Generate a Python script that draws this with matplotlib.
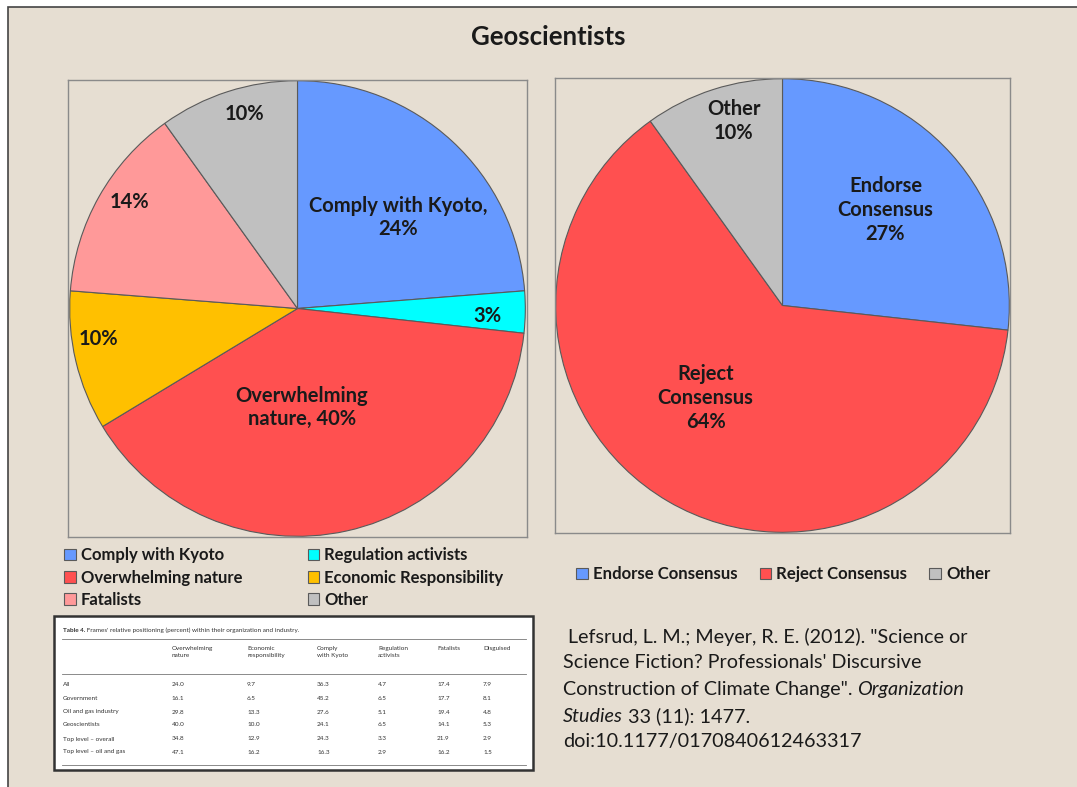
import matplotlib.pyplot as plt
from matplotlib.patches import Rectangle

plt.rcParams['font.family'] = ['Lato', 'DejaVu Sans']

# Data
frames = ['Comply with Kyoto', 'Regulation activists', 'Overwhelming nature',
          'Economic Responsibility', 'Fatalists', 'Other']
frame_pct = [24, 3, 40, 10, 14, 10]
frame_colors = ['#6699FF', '#00FFFF', '#FF5050', '#FFC000', '#FF9999', '#C0C0C0']
frame_labels = ['Comply with Kyoto,\n24%', '3%', 'Overwhelming\nnature, 40%',
                '10%', '14%', '10%']

consensus = ['Endorse Consensus', 'Reject Consensus', 'Other']
consensus_pct = [27, 64, 10]
consensus_colors = ['#6699FF', '#FF5050', '#C0C0C0']
consensus_labels = ['Endorse\nConsensus\n27%', 'Reject\nConsensus\n64%', 'Other\n10%']

table_cols = ['Overwhelming\nnature', 'Economic\nresponsibility', 'Comply\nwith Kyoto',
              'Regulation\nactivists', 'Fatalists', 'Disguised']
table_rows = ['All', 'Government', 'Oil and gas industry', 'Geoscientists',
              'Top level \u2013 overall', 'Top level \u2013 oil and gas']
table_vals = [
    ['24.0', '9.7', '36.3', '4.7', '17.4', '7.9'],
    ['16.1', '6.5', '45.2', '6.5', '17.7', '8.1'],
    ['29.8', '13.3', '27.6', '5.1', '19.4', '4.8'],
    ['40.0', '10.0', '24.1', '6.5', '14.1', '5.3'],
    ['34.8', '12.9', '24.3', '3.3', '21.9', '2.9'],
    ['47.1', '16.2', '16.3', '2.9', '16.2', '1.5'],
]

# label positions inside the pies (axes data units)
frame_label_xy = [(0.443, 0.399), (0.833, -0.031), (0.018, -0.434),
                  (-0.873, -0.136), (-0.737, 0.469), (-0.232, 0.855)]
consensus_label_xy = [(0.454, 0.419), (-0.339, -0.41), (-0.216, 0.815)]

W, H = 1077, 787
BG = '#E6DED2'
fig = plt.figure(figsize=(W / 100, H / 100), dpi=100)
fig.patch.set_facecolor('white')

# background / overlay axes in pixel coords
bg = fig.add_axes([0, 0, 1, 1], zorder=-1)
bg.set_xlim(0, W)
bg.set_ylim(H, 0)
bg.axis('off')
bg.add_patch(Rectangle((8, 7), W + 20, H + 20, facecolor=BG, edgecolor='#444444', lw=1.2))

bg.text(548, 37, 'Geoscientists', ha='center', va='center', fontsize=18.5, fontweight='bold',
        color='#1a1a1a')


def pie_axes(px0, py0, px1, py1):
    ax = fig.add_axes([px0 / W, 1 - py1 / H, (px1 - px0) / W, (py1 - py0) / H])
    ax.set_facecolor(BG)
    return ax


wedge_style = dict(edgecolor='#5a5a5a', linewidth=0.8)

# left pie
ax1 = pie_axes(68, 80, 527, 537)
w1, _ = ax1.pie(frame_pct, colors=frame_colors, startangle=90, counterclock=False,
                wedgeprops=wedge_style)
ax1.set_frame_on(True)
ax1.set_xlim(-1.007, 1.007)
ax1.set_ylim(-1.003, 1.003)
for (x, y), lab in zip(frame_label_xy, frame_labels):
    ax1.text(x, y, lab, ha='center', va='center', fontsize=14.5, fontweight='bold',
             color='#1a1a1a', linespacing=1.2)

# right pie
ax2 = pie_axes(555, 78, 1010, 533)
w2, _ = ax2.pie(consensus_pct, colors=consensus_colors, startangle=90, counterclock=False,
                wedgeprops=wedge_style)
ax2.set_frame_on(True)
ax2.set_xlim(-1.003, 1.003)
ax2.set_ylim(-1.003, 1.003)
for (x, y), lab in zip(consensus_label_xy, consensus_labels):
    ax2.text(x, y, lab, ha='center', va='center', fontsize=14.5, fontweight='bold',
             color='#1a1a1a', linespacing=1.25)

for ax in (ax1, ax2):
    for s in ax.spines.values():
        s.set_color('#8a8a8a')
        s.set_linewidth(1)

# legends
order = [0, 2, 4, 1, 3, 5]
fig.legend([w1[i] for i in order], [frames[i] for i in order], ncol=2,
           loc='upper left', bbox_to_anchor=(56 / W, 1 - 539 / H), frameon=False,
           prop=dict(size=12, weight='bold'), handlelength=0.7, handleheight=0.7,
           handletextpad=0.3, columnspacing=3.9, labelspacing=0.38, borderpad=0,
           labelcolor='#1a1a1a')
fig.legend(w2, consensus, ncol=3, loc='upper left', bbox_to_anchor=(568 / W, 1 - 558 / H),
           frameon=False, prop=dict(size=12.1, weight='bold'), handlelength=0.7,
           handleheight=0.7, handletextpad=0.3, columnspacing=1.3, borderpad=0,
           labelcolor='#1a1a1a')

# table image
bg.add_patch(Rectangle((54, 616), 479, 154, facecolor='white', edgecolor='#333333', lw=1.8))
t = bg.text(63, 630, 'Table 4.', fontsize=4.6, fontweight='bold', va='center', color='#333333')
bg.annotate(" Frames' relative positioning (percent) within their organization and industry.",
            xy=(1, 0.5), xycoords=t, va='center', fontsize=4.6, color='#333333')
for yy in (639, 674, 765):
    bg.plot([62, 526], [yy, yy], color='#777777', lw=0.6)
col_x = [172, 247, 317, 378, 437, 483]
for cx, c in zip(col_x, table_cols):
    bg.text(cx, 646, c, fontsize=4.6, va='top', color='#333333', linespacing=1.5)
row_y = [685, 698, 712, 725, 739, 752]
for ry, rname, vals in zip(row_y, table_rows, table_vals):
    bg.text(63, ry, rname, fontsize=4.6, va='center', color='#333333')
    for cx, v in zip(col_x, vals):
        bg.text(cx, ry, v, fontsize=4.6, va='center', color='#333333')

# citation
cite_kw = dict(fontsize=14.2, color='#1a1a1a', va='center')
bg.text(563, 637, ' Lefsrud, L. M.; Meyer, R. E. (2012). "Science or', **cite_kw)
bg.text(563, 663, "Science Fiction? Professionals' Discursive", **cite_kw)
c3 = bg.text(563, 690, 'Construction of Climate Change". ', **cite_kw)
bg.annotate('Organization', xy=(1, 0.5), xycoords=c3, fontstyle='italic', **cite_kw)
c4 = bg.text(563, 716, 'Studies', fontstyle='italic', **cite_kw)
bg.annotate(' 33 (11): 1477.', xy=(1, 0.5), xycoords=c4, **cite_kw)
bg.text(563, 742, 'doi:10.1177/0170840612463317', **cite_kw)

fig.savefig('out.png', dpi=100, facecolor=fig.get_facecolor())
